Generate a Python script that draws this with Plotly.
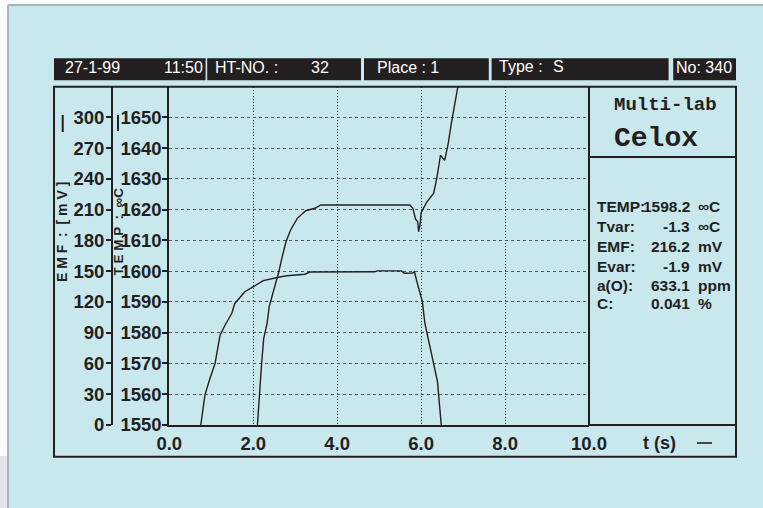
import plotly.graph_objects as go

# ---------------- data ----------------
temp_t = [0.75, 0.85, 0.97, 1.09, 1.21, 1.33, 1.49, 1.56, 1.80, 2.00, 2.24, 2.60, 2.80,
          3.23, 3.35, 4.90, 4.95, 5.53, 5.60, 5.80, 5.84, 5.93, 6.03, 6.09, 6.21, 6.30,
          6.35, 6.39, 6.48]
temp_val = [1550.0, 1559.8, 1565.2, 1570.0, 1579.2, 1582.5, 1586.3, 1589.5, 1593.3, 1594.9,
            1596.9, 1598.0, 1598.5, 1599.0, 1599.7, 1599.8, 1600.1, 1600.1, 1599.3, 1599.4,
            1599.8, 1595.0, 1590.1, 1583.0, 1575.4, 1570.0, 1565.7, 1564.1, 1550.0]

emf_t = [2.10, 2.14, 2.18, 2.20, 2.25, 2.33, 2.38, 2.48, 2.60, 2.71, 2.78, 2.89, 3.05, 3.25,
         3.47, 3.61, 5.73, 5.80, 5.84, 5.87, 5.92, 5.94, 5.98, 6.00, 6.13, 6.30, 6.38, 6.46,
         6.56, 6.64, 6.72, 6.80, 6.88, 6.92]
emf_val = [0.0, 27.6, 43.9, 60.2, 84.5, 99.1, 115.4, 130.0, 147.9, 167.4, 178.7, 190.1, 201.5,
           208.9, 211.3, 214.5, 214.5, 211.5, 206.0, 200.5, 198.2, 188.5, 196.6, 207.0, 217.0,
           226.0, 242.0, 263.0, 258.0, 273.0, 294.0, 313.6, 330.0, 340.0]

x_ticks = [0, 2, 4, 6, 8, 10]
x_ticklabels = ["0.0", "2.0", "4.0", "6.0", "8.0", "10.0"]
emf_ticks = [0, 30, 60, 90, 120, 150, 180, 210, 240, 270, 300]
temp_ticks = [1550, 1560, 1570, 1580, 1590, 1600, 1610, 1620, 1630, 1640, 1650]

header_left = ["27-1-99", "HT-NO. :", "Place : 1", "Type :", "S", "No: 340"]
panel_labels = ["TEMP:", "Tvar:", "EMF:", "Evar:", "a(O):", "C:"]
panel_values = ["1598.2", "-1.3", "216.2", "-1.9", "633.1", "0.041"]
panel_units = ["∞C", "∞C", "mV", "mV", "ppm", "%"]

# ---------------- layout helpers ----------------
W, H = 763, 508
def X(px):
    return px / W
def Y(py):
    return 1 - py / H

DARK = "#231f20"
BG = "#c8e8ee"
SANS = "Liberation Sans, Arial, sans-serif"
MONO = "Liberation Mono, Courier New, monospace"

EMF_TOP = (425 - 86.7) / (307.7 / 300.0)
TEMP_TOP = 1550 + EMF_TOP / 3.0

fig = go.Figure()
fig.add_trace(go.Scatter(x=temp_t, y=temp_val, mode="lines", yaxis="y",
                         line=dict(color=DARK, width=1.4), hoverinfo="skip"))
fig.add_trace(go.Scatter(x=emf_t, y=emf_val, mode="lines", yaxis="y2",
                         line=dict(color=DARK, width=1.4), hoverinfo="skip"))

tickfont = dict(family=SANS, size=18.5, color=DARK, weight="bold")

fig.update_layout(
    width=W, height=H, autosize=False,
    margin=dict(l=0, r=0, t=0, b=0, pad=0, autoexpand=False),
    paper_bgcolor="white", plot_bgcolor="rgba(0,0,0,0)",
    showlegend=False,
    xaxis=dict(domain=[X(169.3), X(589)], range=[0, 10], tickvals=x_ticks,
               ticktext=x_ticklabels, showgrid=True, gridcolor="#3a3a3a", gridwidth=1,
               griddash="1px,2px", zeroline=False, showline=True, linecolor=DARK,
               linewidth=2, ticks="", ticklabelstandoff=1, tickfont=tickfont,
               automargin=False, fixedrange=True),
    yaxis=dict(domain=[Y(425), Y(86.7)], range=[1550, TEMP_TOP], tickvals=temp_ticks,
               showgrid=True, gridcolor="#555555", gridwidth=1, griddash="3px,3px",
               zeroline=False, showline=True, linecolor=DARK, linewidth=2,
               ticks="outside", ticklen=5, tickwidth=1.5, tickcolor=DARK,
               ticklabelstandoff=-3, tickfont=tickfont, automargin=False, fixedrange=True),
    yaxis2=dict(overlaying="y", anchor="free", position=X(112), side="left",
                range=[0, EMF_TOP], tickvals=emf_ticks, showgrid=False, zeroline=False,
                showline=True, linecolor=DARK, linewidth=2, ticks="outside", ticklen=5,
                tickwidth=1.5, tickcolor=DARK, ticklabelstandoff=-2, tickfont=tickfont,
                automargin=False, fixedrange=True),
)

shapes = []
def rect(x0, y0, x1, y1, fill=None, line=None, layer="below"):
    d = dict(type="rect", xref="paper", yref="paper", x0=X(x0), x1=X(x1), y0=Y(y0), y1=Y(y1),
             layer=layer)
    if fill:
        d["fillcolor"] = fill
    d["line"] = line if line else dict(width=0)
    shapes.append(d)
def seg(x0, y0, x1, y1, color=DARK, width=2, layer="above"):
    shapes.append(dict(type="line", xref="paper", yref="paper", x0=X(x0), x1=X(x1),
                       y0=Y(y0), y1=Y(y1), line=dict(color=color, width=width), layer=layer))

# page background
rect(8, 5, 763, 508, fill=BG)
rect(0, 456, 8, 508, fill="#e4e7e9")
seg(8, 5, 763, 5, color="#a8b6bb", width=2, layer="below")
seg(8, 5, 8, 508, color="#a8b6bb", width=2, layer="below")
# header boxes
for x0, x1 in [(54, 205.6), (207.2, 361), (364, 488.8), (491.6, 668.6), (673.2, 736)]:
    rect(x0, 58.3, x1, 80.2, fill=DARK)
# frame
rect(54, 86.7, 736, 456.7, line=dict(color=DARK, width=2), layer="above")
seg(589, 86.7, 589, 425)
seg(589, 157, 736, 157)
seg(589, 425, 736, 425)
# line-style legend marks
seg(62.7, 115, 62.7, 132, width=2)
seg(118, 115, 118, 131, width=2)
seg(697, 443, 712, 443, width=1.6)
fig.update_layout(shapes=shapes)

anns = []
def ann(text, x, y, xa="left", size=16, family=SANS, color=DARK, weight="normal", angle=0):
    anns.append(dict(text=text, x=X(x), y=Y(y), xref="paper", yref="paper", xanchor=xa,
                     yanchor="middle", showarrow=False, textangle=angle,
                     font=dict(family=family, size=size, color=color, weight=weight)))

# header text
ann(header_left[0], 63, 68, color="white")
ann("11:50", 204.5, 68, xa="right", color="white")
ann(header_left[1], 213, 68, color="white")
ann("32", 320, 68, xa="center", color="white")
ann(header_left[2], 375, 68, color="white")
ann(header_left[3], 497, 66.5, color="white")
ann(header_left[4], 551, 66.5, color="white")
ann(header_left[5], 674, 68, color="white")

# axis titles
ann("E M F  :  [ m V ]", 62, 232, xa="center", size=14, weight="bold", angle=-90)
ann("T E M P  :  ∞C", 117.5, 232, xa="center", size=13.5, weight="bold", angle=-90)
ann("t (s)", 659, 443, xa="center", size=18, weight="bold")

# right panel
ann("Multi-lab", 612, 105, size=19, family=MONO, weight="bold")
ann("Celox", 612, 139, size=28, family=MONO, weight="bold")
row_y = [207, 226.5, 246.3, 266, 285.6, 303.5]
for lab, val, unit, yy in zip(panel_labels, panel_values, panel_units, row_y):
    ann(lab, 594.5, yy, size=15.5, weight="bold")
    ann(val, 692, yy, xa="right", size=15.5, weight="bold")
    ann(unit, 696, yy, size=15.5, weight="bold")
fig.update_layout(annotations=anns)

fig.write_html("out.html", config={"displayModeBar": False},
               post_script="document.body.style.margin='0';")
